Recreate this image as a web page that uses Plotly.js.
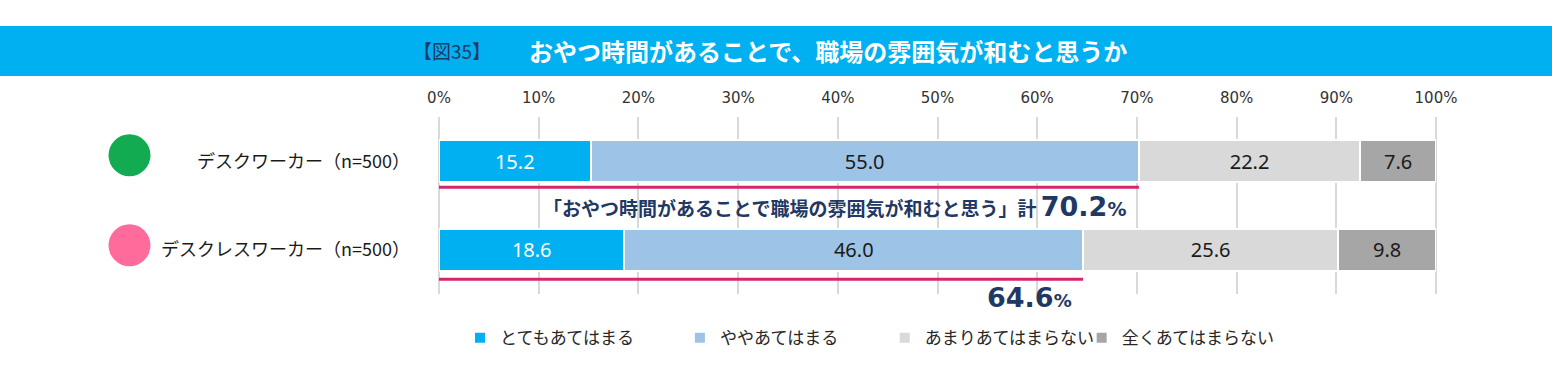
<!DOCTYPE html>
<html><head><meta charset="utf-8">
<script src="https://cdn.plot.ly/plotly-3.0.1.min.js"></script>
<style>html,body{margin:0;padding:0;background:#fff}#chart{width:1552px;height:392px}</style>
</head><body><div id="chart"></div>
<script>
// ---- data ----
const categories = ['デスクワーカー（n=500）', 'デスクレスワーカー（n=500）'];
const seriesNames = ['とてもあてはまる', 'ややあてはまる', 'あまりあてはまらない', '全くあてはまらない'];
const veryTrue = [15.2, 18.6];
const somewhatTrue = [55.0, 46.0];
const notVeryTrue = [22.2, 25.6];
const notAtAllTrue = [7.6, 9.8];
const tickVals = [0, 10, 20, 30, 40, 50, 60, 70, 80, 90, 100];
const tickLabels = ['0%', '10%', '20%', '30%', '40%', '50%', '60%', '70%', '80%', '90%', '100%'];
const titlePrefix = '【図35】';
const titleText = 'おやつ時間があることで、職場の雰囲気が和むと思うか';
const totalLabel = '「おやつ時間があることで職場の雰囲気が和むと思う」計';

// ---- styles ----
const colors = ['#00b0f0', '#9dc3e6', '#d9d9d9', '#a6a6a6'];
const textColors = ['#ffffff', '#1a1a1a', '#1a1a1a', '#1a1a1a'];
const groupColors = ['#13ab52', '#ff6b9b'];
const JP = '"Noto Sans CJK JP", "Noto Sans", sans-serif';
const NUM = '"Noto Sans", "Noto Sans CJK JP", sans-serif';
const NAVY = '#1f3864';
const legendIds = ['legend', 'legend2', 'legend3', 'legend4'];
const legendX = [0.0211, 0.2416, 0.4471, 0.6446];

const seriesValues = [veryTrue, somewhatTrue, notVeryTrue, notAtAllTrue];
const totals = veryTrue.map((v, i) => +(v + somewhatTrue[i]).toFixed(1));

const traces = seriesValues.map((vals, s) => ({
  type: 'bar',
  orientation: 'h',
  name: seriesNames[s],
  legend: legendIds[s],
  y: categories,
  x: vals,
  width: 0.475,
  marker: { color: colors[s], line: { color: '#ffffff', width: 2 } },
  text: vals.map(v => v.toFixed(1)),
  textposition: 'inside',
  insidetextanchor: 'middle',
  textangle: 0,
  textfont: { family: NUM, size: 20, color: textColors[s] },
  hoverinfo: 'name+x'
}));

const catPaperY = [0.75, 0.25];
const circleOffsets = [6, 4.5];
const lineOffsets = [26, 29.5];
const shapes = [
  { type: 'rect', xref: 'paper', yref: 'paper', x0: -1, x1: 2, y0: 1.232, y1: 1.514,
    fillcolor: '#00b0f0', line: { width: 0 }, layer: 'below' },
  { type: 'line', xref: 'paper', yref: 'paper', x0: 0, x1: 0, y0: 0, y1: 1,
    line: { color: '#d9d9d9', width: 2 }, layer: 'below' },
  { type: 'line', xref: 'paper', yref: 'paper', x0: 1, x1: 1, y0: 0, y1: 1,
    line: { color: '#d9d9d9', width: 2 }, layer: 'below' }
];
categories.forEach((c, i) => {
  shapes.push({ type: 'circle', xref: 'paper', yref: 'paper', xsizemode: 'pixel', ysizemode: 'pixel',
    xanchor: 0, yanchor: catPaperY[i], x0: -330.5, x1: -288.5,
    y0: circleOffsets[i] - 21, y1: circleOffsets[i] + 21,
    fillcolor: groupColors[i], line: { width: 0 } });
  shapes.push({ type: 'line', xref: 'x', yref: 'y', ysizemode: 'pixel', yanchor: c,
    x0: 0, x1: totals[i], y0: -lineOffsets[i], y1: -lineOffsets[i],
    line: { color: '#d6246e', width: 3 } });
});

const annotations = [
  { xref: 'paper', yref: 'paper', x: 0.0135, y: 1.373, xanchor: 'center', yanchor: 'middle',
    text: titlePrefix, showarrow: false, font: { family: JP, size: 19, color: NAVY } },
  { xref: 'paper', yref: 'paper', x: 0.0885, y: 1.373, xanchor: 'left', yanchor: 'middle',
    text: '<b>' + titleText + '</b>', showarrow: false, font: { family: JP, size: 24, color: '#ffffff' } },
  { xref: 'x', yref: 'y', x: totals[0], y: categories[0], xanchor: 'right', yanchor: 'middle',
    xshift: -11, yshift: -45, showarrow: false,
    text: '<b>' + totalLabel + ' <span style="font-size:27px;font-family:DejaVu Sans">' + totals[0].toFixed(1) + '</span><span style="font-family:DejaVu Sans">%</span></b>',
    font: { family: JP, size: 19, color: NAVY } },
  { xref: 'x', yref: 'y', x: totals[1], y: categories[1], xanchor: 'right', yanchor: 'middle',
    xshift: -9, yshift: -48, showarrow: false,
    text: '<b><span style="font-size:27px">' + totals[1].toFixed(1) + '</span>%</b>',
    font: { family: 'DejaVu Sans', size: 18, color: NAVY } }
];

const layout = {
  width: 1552, height: 392,
  margin: { l: 438.5, r: 116, t: 117, b: 98, pad: 0 },
  paper_bgcolor: '#ffffff', plot_bgcolor: '#ffffff',
  barmode: 'stack',
  showlegend: true,
  xaxis: {
    side: 'top', range: [0, 100], tickmode: 'array', tickvals: tickVals, ticktext: tickLabels,
    showgrid: true, gridcolor: '#d9d9d9', gridwidth: 2, zeroline: false, showline: false,
    ticks: '', ticklabelstandoff: 10,
    tickfont: { family: '"DejaVu Sans", sans-serif', size: 15, color: '#333333' },
    fixedrange: true
  },
  yaxis: {
    type: 'category', range: [1.5, -0.5], showgrid: false, zeroline: false, showline: false,
    ticks: '', ticklabelstandoff: 28,
    tickfont: { family: JP, size: 18, color: '#1a1a1a' },
    fixedrange: true
  },
  shapes: shapes,
  annotations: annotations
};
legendIds.forEach((id, s) => {
  layout[id] = { orientation: 'h', x: legendX[s], xanchor: 'left', y: -0.25, yanchor: 'middle',
    bgcolor: 'rgba(0,0,0,0)', font: { family: JP, size: 17, color: '#262626' } };
});

Plotly.newPlot('chart', traces, layout, { displayModeBar: false });
</script>
</body></html>
